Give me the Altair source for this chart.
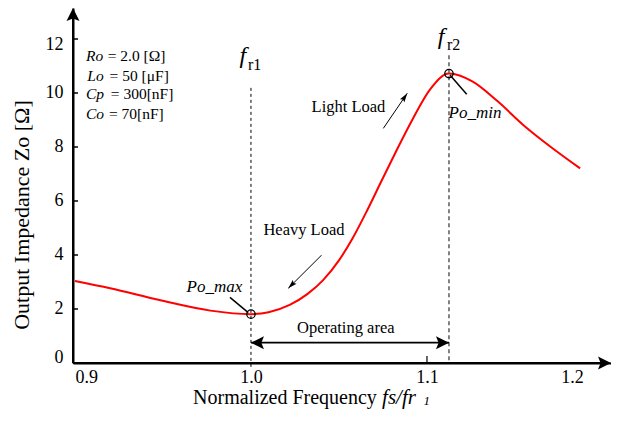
import altair as alt
import pandas as pd

# ---------------- data ----------------
freq = [0.900, 0.920, 0.948, 0.977, 1.000, 1.010, 1.022, 1.032, 1.041, 1.050,
        1.058, 1.066, 1.074, 1.082, 1.092, 1.102, 1.1125, 1.126, 1.140, 1.155,
        1.170, 1.187]
zo = [3.04, 2.77, 2.33, 1.94, 1.81, 1.88, 2.15, 2.55, 3.07, 3.80,
      4.65, 5.65, 6.72, 7.78, 9.05, 10.15, 10.72, 10.42, 9.70, 8.80,
      8.02, 7.21]

x_ticks = [0.9, 1.0, 1.1, 1.2]
y_ticks = [0, 2, 4, 6, 8, 10, 12]

fr1, fr2 = 1.0, 1.1125
po_max = 1.81
po_min = 10.72

param_names = ["Ro", "Lo", "Cp", "Co"]
param_values = ["= 2.0 [Ω]", "= 50 [μF]", "= 300[nF]", "= 70[nF]"]

FONT = "Liberation Serif"
XMIN, XMAX = 0.8989, 1.20455
YMAX = 13.148
W, H = 538, 355

xs = alt.Scale(domain=[XMIN, XMAX], nice=False, zero=False)
ys = alt.Scale(domain=[0, YMAX], nice=False, zero=False)

curve_df = pd.DataFrame({"x": freq, "y": zo})

x_axis = alt.Axis(
    values=x_ticks, format=".1f", title=None, grid=False, ticks=False,
    domainColor="black", domainWidth=2, labelFont=FONT, labelFontSize=18,
    labelColor="black", labelPadding=5, labelFlush=False,
    labelAlign={"condition": {"test": "datum.value == 0.9", "value": "left"}, "value": "center"},
    labelOffset={"condition": {"test": "datum.value == 1.2", "value": -31}, "value": 0},
)
y_axis = alt.Axis(
    values=y_ticks, title=None, grid=False, ticks=False,
    domainColor="black", domainWidth=2, labelFont=FONT, labelFontSize=18,
    labelColor="black", labelPadding=10, labelFlush=False,
    labelOffset={"condition": [{"test": "datum.value == 12", "value": 6},
                               {"test": "datum.value == 0", "value": -6}], "value": 0},
)

curve = alt.Chart(curve_df).mark_line(color="#ff0000", strokeWidth=2, interpolate="monotone").encode(
    x=alt.X("x:Q", scale=xs, axis=x_axis),
    y=alt.Y("y:Q", scale=ys, axis=y_axis),
)

def X(f):
    return alt.X(f, scale=xs)

def Y(f):
    return alt.Y(f, scale=ys)

# custom inward ticks
ytick_df = pd.DataFrame({"y": [v for v in y_ticks if v > 0]})
yticks = alt.Chart(ytick_df).mark_rule(color="black", strokeWidth=1.5).encode(
    y=Y("y:Q"), x=alt.value(0), x2=alt.value(5))
xtick_df = pd.DataFrame({"x": [1.1]})
xticks = alt.Chart(xtick_df).mark_rule(color="black", strokeWidth=1.2).encode(
    x=X("x:Q"), y=alt.value(H), y2=alt.value(H - 7))

# dashed resonance lines
fr1_line = alt.Chart(pd.DataFrame({"x": [fr1], "y": [10.19], "y2": [-0.25]})).mark_rule(
    color="black", strokeWidth=1, strokeDash=[3, 3]).encode(x=X("x:Q"), y=Y("y:Q"), y2="y2:Q")
fr2_line = alt.Chart(pd.DataFrame({"x": [fr2], "y": [11.4], "y2": [0]})).mark_rule(
    color="#666666", strokeWidth=1.6, strokeDash=[4, 3]).encode(x=X("x:Q"), y=Y("y:Q"), y2="y2:Q")

# marker circles
pts = alt.Chart(pd.DataFrame({"x": [fr1, fr2], "y": [po_max, po_min]})).mark_point(
    shape="circle", filled=False, color="black", size=70, strokeWidth=1.3, opacity=1).encode(
    x=X("x:Q"), y=Y("y:Q"))

# leader lines and arrow bodies
seg_df = pd.DataFrame({
    "x": [0.98807, 1.11307, 1.0402, 1.0752, 1.0, XMIN, XMIN],
    "y": [2.433, 10.667, 4.0, 8.69, 0.752, 0, 0],
    "x2": [0.99847, 1.12256, 1.0212, 1.0888, 1.1125, XMIN, XMAX - 0.004],
    "y2": [1.863, 9.952, 2.767, 9.99, 0.752, YMAX - 0.3, 0],
    "w": [1.5, 1.5, 1.0, 1.0, 1.8, 2, 2],
})
segs = alt.Chart(seg_df).mark_rule(color="black").encode(
    x=X("x:Q"), y=Y("y:Q"), x2="x2:Q", y2="y2:Q",
    strokeWidth=alt.StrokeWidth("w:Q", scale=None))

big_heads = alt.Chart(pd.DataFrame({
    "x": [1.0, 1.1125, XMIN, XMAX],
    "y": [0.752, 0.752, YMAX, 0],
    "a": [270, 90, 0, 90],
})).mark_point(shape="M0,0L1,2L0,1.6L-1,2Z", filled=True, color="black", size=169, opacity=1,
               strokeWidth=0).encode(x=X("x:Q"), y=Y("y:Q"), angle=alt.Angle("a:Q", scale=None))

small_heads = alt.Chart(pd.DataFrame({
    "x": [1.0212, 1.0888], "y": [2.767, 9.99], "a": [225, 34.4],
})).mark_point(shape="M0,0L0.6,2L0,1.7L-0.6,2Z", filled=True, color="black", size=81, opacity=1,
               strokeWidth=0).encode(x=X("x:Q"), y=Y("y:Q"), angle=alt.Angle("a:Q", scale=None))

def text_layer(df, size, style="normal", align="center", baseline="middle", angle=0):
    return alt.Chart(df).mark_text(font=FONT, fontSize=size, fontStyle=style, align=align,
                                   baseline=baseline, color="black", angle=angle).encode(
        x=X("x:Q"), y=Y("y:Q"), text="t:N")

names_t = text_layer(pd.DataFrame({"x": [0.90625, 0.907, 0.90625, 0.90625],
                                   "y": [11.37, 10.63, 9.96, 9.22], "t": param_names}),
                     15.5, "italic", align="left")
values_t = text_layer(pd.DataFrame({"x": [0.9186, 0.9197, 0.9204, 0.9193],
                                    "y": [11.37, 10.63, 9.96, 9.22], "t": param_values}),
                      15.5, align="left")

ann_t = text_layer(pd.DataFrame({"x": [1.03011, 1.0554, 1.05386],
                                 "y": [4.926, 9.493, 1.296],
                                 "t": ["Heavy Load", "Light Load", "Operating area"]}), 16.5)
po_t = text_layer(pd.DataFrame({"x": [0.97926, 1.12727], "y": [2.815, 9.27],
                                "t": ["Po_max", "Po_min"]}), 17, "italic")

f_t = text_layer(pd.DataFrame({"x": [0.99545, 1.1080], "y": [11.111, 11.815], "t": ["f", "f"]}),
                 24, "italic", baseline="alphabetic")
r_t = text_layer(pd.DataFrame({"x": [0.9983, 1.11136], "y": [10.852, 11.593], "t": ["r1", "r2"]}),
                 16, align="left", baseline="alphabetic")

TY = -1.30
xtitle = text_layer(pd.DataFrame({"x": [1.01932], "y": [TY], "t": ["Normalized Frequency"]}), 20)
xtitle_it = text_layer(pd.DataFrame({"x": [1.0745], "y": [TY], "t": ["fs/fr"]}), 21, "italic",
                       align="left")
xtitle_sub = text_layer(pd.DataFrame({"x": [1.0980], "y": [TY - 0.12], "t": ["1"]}), 13, "italic",
                        align="left")
ytitle = text_layer(pd.DataFrame({"x": [0.86989], "y": [5.481], "t": ["Output Impedance Zo  [Ω]"]}),
                    22, angle=270)

chart = alt.layer(
    curve, fr1_line, fr2_line, yticks, xticks, segs, big_heads, small_heads, pts,
    names_t, values_t, ann_t, po_t, f_t, r_t, xtitle, xtitle_it, xtitle_sub, ytitle,
).properties(
    width=W, height=H,
    autosize=alt.AutoSizeParams(type="none"),
    padding={"left": 65, "top": 0, "right": 0, "bottom": 47},
    background="white",
).configure_view(stroke=None)

chart.save("out.html", embed_options={"renderer": "svg", "actions": False})
